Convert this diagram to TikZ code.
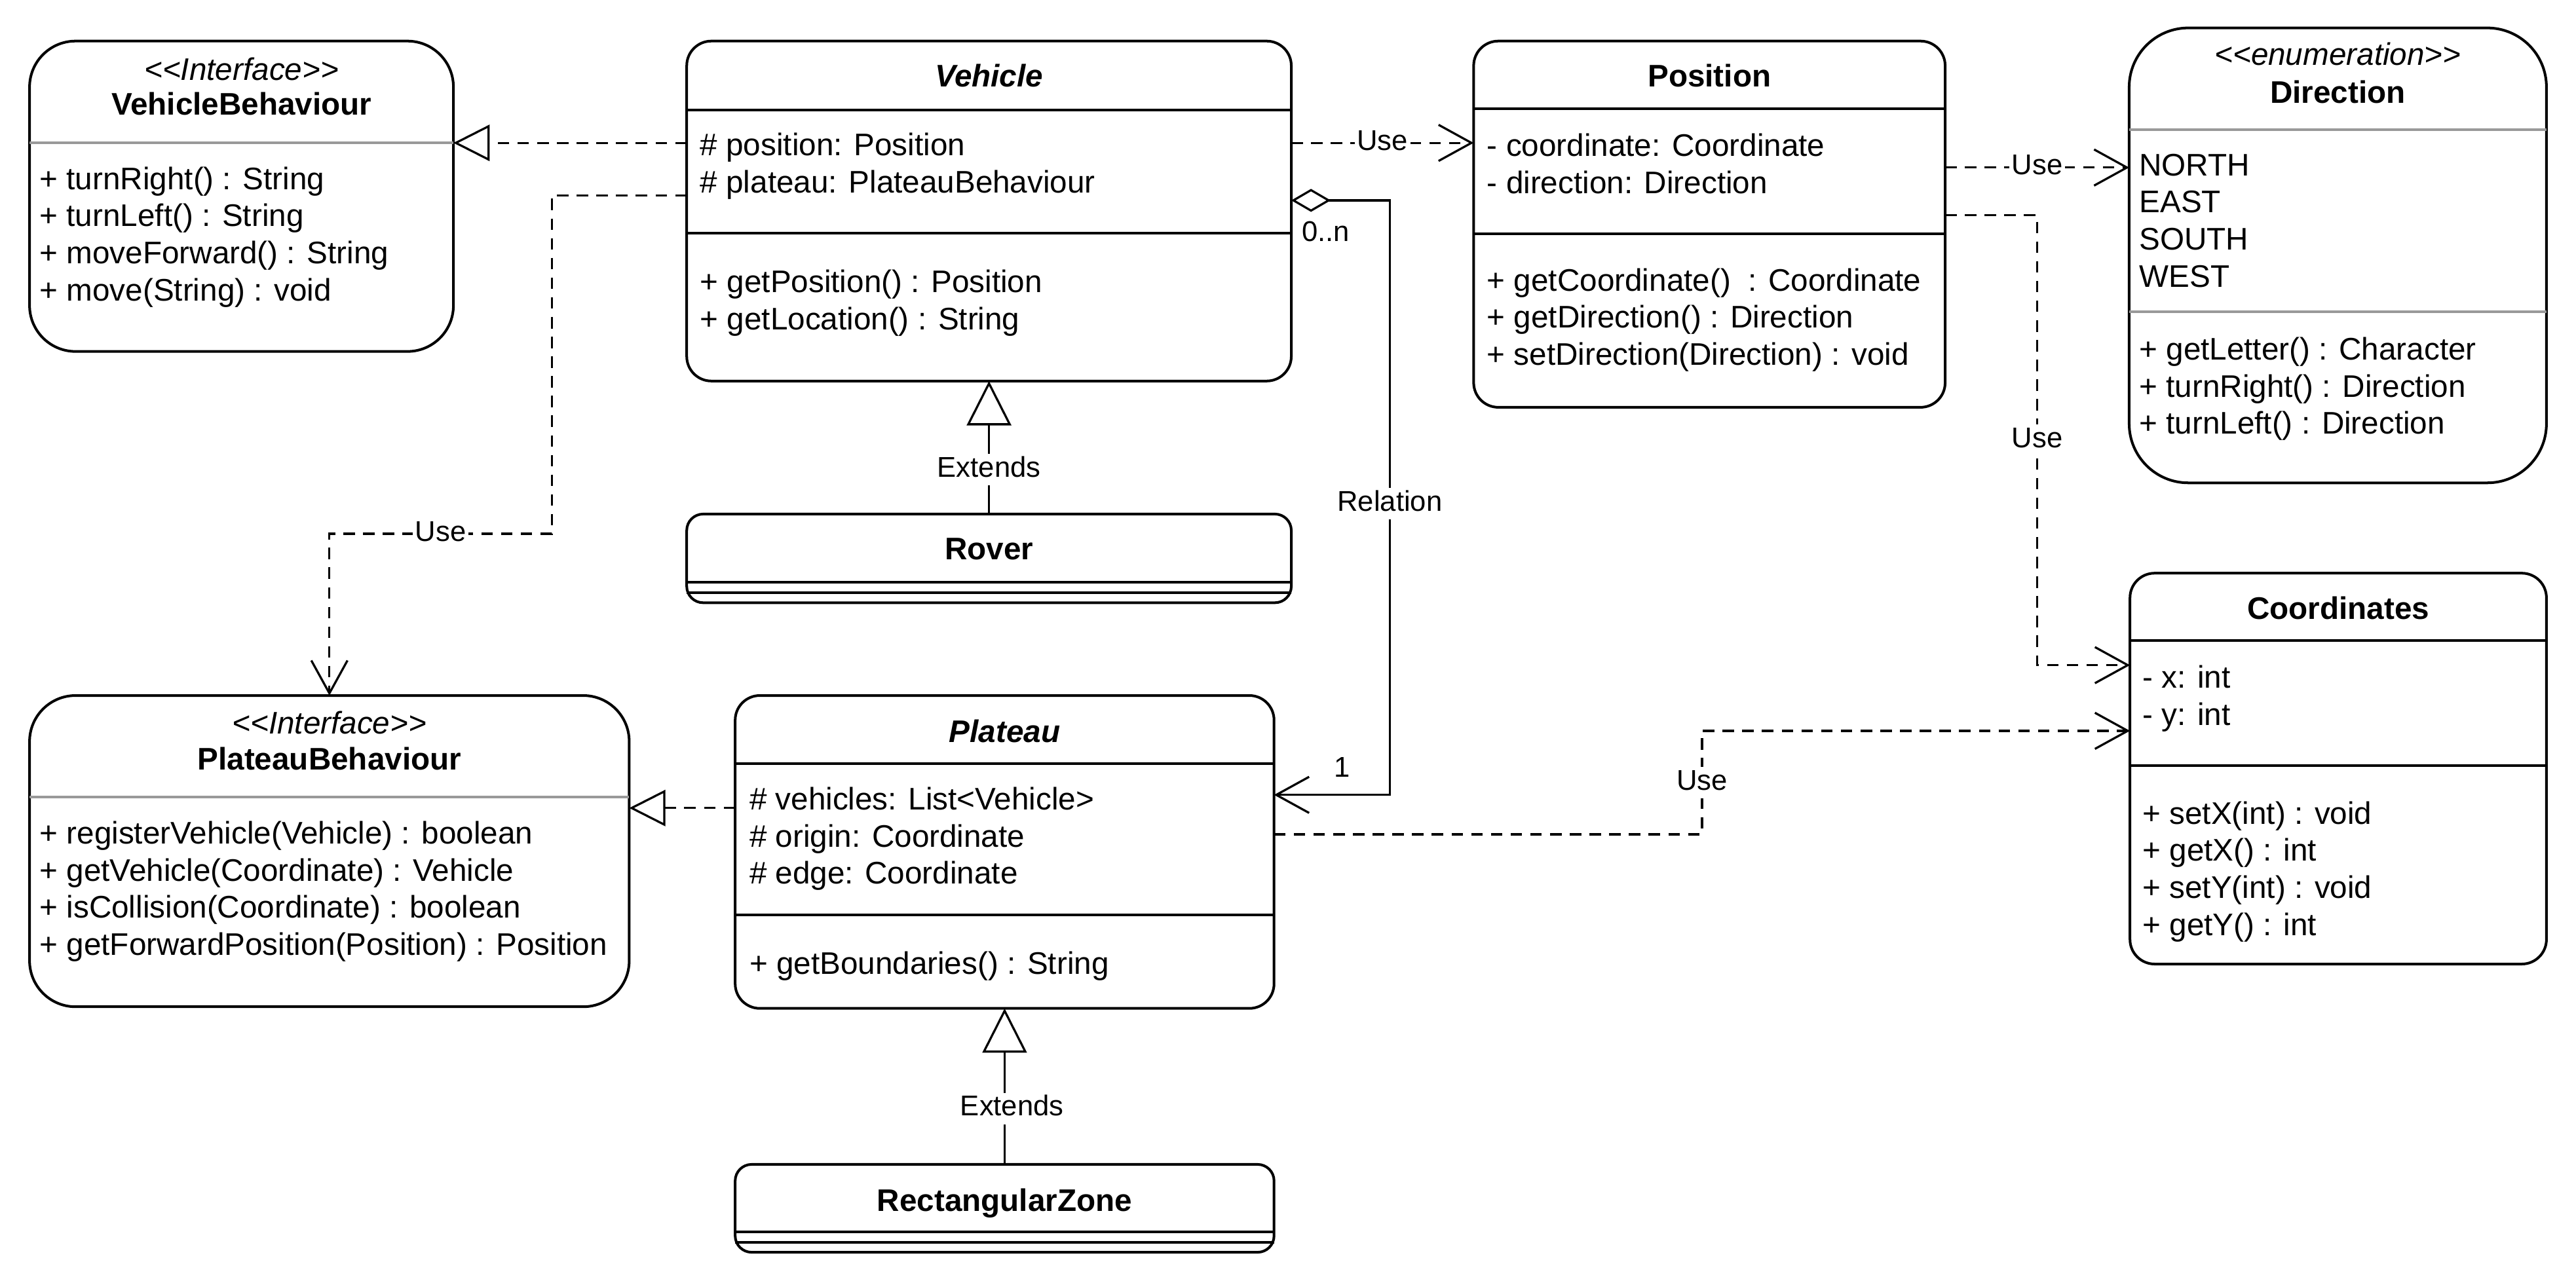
\documentclass[tikz,border=0pt]{standalone}
\usepackage{fontspec}
\newfontfamily\umlfont{Liberation Sans}
\usetikzlibrary{arrows.meta}

\tikzset{
  classbox/.style={draw, line width=1.6pt, rounded corners=15pt, inner sep=0pt, outer sep=0pt},
  title/.style={inner sep=0pt, text height=13.7pt, text depth=0pt, font=\umlfont\bfseries\fontsize{19pt}{22.6pt}\selectfont},
  stereo/.style={inner sep=0pt, text height=13.7pt, text depth=0pt, font=\umlfont\itshape\fontsize{19pt}{22.6pt}\selectfont},
  members/.style={anchor=north west, inner sep=0pt, align=left, font=\umlfont\fontsize{19pt}{22.6pt}\selectfont},
  sep/.style={line width=1.6pt},
  graysep/.style={line width=1.6pt, black!40},
  lbl/.style={fill=white, inner sep=1.5pt, text height=12.5pt, text depth=3.6pt, font=\umlfont\fontsize{17.4pt}{20pt}\selectfont},
  mult/.style={inner sep=0pt, font=\umlfont\fontsize{17.4pt}{20pt}\selectfont},
  use/.style={line width=1.3pt, dash pattern=on 7pt off 5pt, -{Straight Barb[length=20pt, width=22pt]}},
  realize/.style={line width=1.3pt, dash pattern=on 7pt off 5pt, -{Triangle[open, length=22pt, width=22pt]}},
  extends/.style={line width=1.3pt, -{Triangle[open, length=27pt, width=27pt]}},
  relation/.style={line width=1.3pt, {Diamond[open, length=24pt, width=14pt]}-{Straight Barb[length=20pt, width=22pt]}}
}

\begin{document}
\begin{tikzpicture}[x=1pt, y=-1pt]
  \fill[white] (0,0) rectangle (1568,780);
  \useasboundingbox (0,0) rectangle (1568,780);

  % classes
  \node[classbox, rounded corners=28pt, minimum width=258pt, minimum height=189pt] (vbeh) at (147,119.5) {};
  \node[classbox, minimum width=368pt, minimum height=207pt] (vehicle) at (602,128.5) {};
  \node[classbox, rounded corners=10pt, minimum width=368pt, minimum height=54pt] (rover) at (602,340) {};
  \node[classbox, minimum width=287pt, minimum height=223pt] (position) at (1040.5,136.5) {};
  \node[classbox, rounded corners=36pt, minimum width=254pt, minimum height=277pt] (direction) at (1423,155.5) {};
  \node[classbox, minimum width=253.5pt, minimum height=238pt] (coords) at (1423.25,468) {};
  \node[classbox, rounded corners=28pt, minimum width=365pt, minimum height=189.5pt] (pbeh) at (200.5,518.25) {};
  \node[classbox, minimum width=328pt, minimum height=190.5pt] (plateau) at (611.5,518.75) {};
  \node[classbox, rounded corners=10pt, minimum width=328pt, minimum height=53.5pt] (rectzone) at (611.5,735.75) {};

  % compartments
  \draw[graysep] (vbeh.west |- 0,87) -- (vbeh.east |- 0,87);
  \draw[sep] (vehicle.west |- 0,67) -- (vehicle.east |- 0,67);
  \draw[sep] (vehicle.west |- 0,142) -- (vehicle.east |- 0,142);
  \draw[sep] (rover.west |- 0,354.5) -- (rover.east |- 0,354.5);
  \draw[sep] (rover.west |- 0,361) -- (rover.east |- 0,361);
  \draw[sep] (position.west |- 0,66) -- (position.east |- 0,66);
  \draw[sep] (position.west |- 0,142.4) -- (position.east |- 0,142.4);
  \draw[graysep] (direction.west |- 0,79) -- (direction.east |- 0,79);
  \draw[graysep] (direction.west |- 0,190) -- (direction.east |- 0,190);
  \draw[sep] (coords.west |- 0,390) -- (coords.east |- 0,390);
  \draw[sep] (coords.west |- 0,466) -- (coords.east |- 0,466);
  \draw[graysep] (pbeh.west |- 0,485.5) -- (pbeh.east |- 0,485.5);
  \draw[sep] (plateau.west |- 0,465) -- (plateau.east |- 0,465);
  \draw[sep] (plateau.west |- 0,557) -- (plateau.east |- 0,557);
  \draw[sep] (rectzone.west |- 0,750) -- (rectzone.east |- 0,750);
  \draw[sep] (rectzone.west |- 0,756.6) -- (rectzone.east |- 0,756.6);

  % texts
  \node[stereo] (vbeh-st) at (147,42) {<<Interface>>};
  \node[title] (vbeh-name) at (147,63) {VehicleBehaviour};
  \node[members] (vbeh-ops) at (24,101.4) {+ turnRight() : String\\+ turnLeft() : String\\+ moveForward() : String\\+ move(String) : void};

  \node[title, font=\umlfont\bfseries\itshape\fontsize{19pt}{22.6pt}\selectfont] (vehicle-name) at (602,46) {Vehicle};
  \node[members] (vehicle-attr) at (426,80.9) {\# position: Position\\\# plateau: PlateauBehaviour};
  \node[members] (vehicle-ops) at (426,164.1) {+ getPosition() : Position\\+ getLocation() : String};

  \node[title] (rover-name) at (602,334) {Rover};

  \node[title] (position-name) at (1040.5,46) {Position};
  \node[members] (position-attr) at (905,81.1) {- coordinate: Coordinate\\- direction: Direction};
  \node[members] (position-ops) at (905,163.1) {+ getCoordinate()\ \ : Coordinate\\+ getDirection() : Direction\\+ setDirection(Direction) : void};

  \node[stereo] (direction-st) at (1423,33) {<<enumeration>>};
  \node[title] (direction-name) at (1423,56) {Direction};
  \node[members] (direction-val) at (1302,93.5) {NORTH\\EAST\\SOUTH\\WEST};
  \node[members] (direction-ops) at (1302,205.1) {+ getLetter() : Character\\+ turnRight() : Direction\\+ turnLeft() : Direction};

  \node[title] (coords-name) at (1423.25,370) {Coordinates};
  \node[members] (coords-attr) at (1304,405.1) {- x: int\\- y: int};
  \node[members] (coords-ops) at (1304,487.7) {+ setX(int) : void\\+ getX() : int\\+ setY(int) : void\\+ getY() : int};

  \node[stereo] (pbeh-st) at (200.5,440) {<<Interface>>};
  \node[title] (pbeh-name) at (200.5,462) {PlateauBehaviour};
  \node[members] (pbeh-ops) at (24,499.8) {+ registerVehicle(Vehicle) : boolean\\+ getVehicle(Coordinate) : Vehicle\\+ isCollision(Coordinate) : boolean\\+ getForwardPosition(Position) : Position};

  \node[title, font=\umlfont\bfseries\itshape\fontsize{19pt}{22.6pt}\selectfont] (plateau-name) at (611.5,445) {Plateau};
  \node[members] (plateau-attr) at (456,479.1) {\# vehicles: List<Vehicle>\\\# origin: Coordinate\\\# edge: Coordinate};
  \node[members] (plateau-ops) at (456,579.1) {+ getBoundaries() : String};

  \node[title] (rectzone-name) at (611.5,730.5) {RectangularZone};

  % connectors
  \draw[realize] (vehicle.west |- 0,87) -- (vbeh.east |- 0,87);
  \draw[realize] (plateau.west |- 0,492) -- (pbeh.east |- 0,492);
  \draw[use] (vehicle.west |- 0,119) -- (336,119) -- (336,325) -- node[lbl]{Use} (200.5,325) -- (pbeh.north);
  \draw[use] (vehicle.east |- 0,87) -- node[lbl]{Use} (position.west |- 0,87);
  \draw[use] (position.east |- 0,102) -- node[lbl]{Use} (direction.west |- 0,102);
  \draw[use] (position.east |- 0,131) -- (1240,131) -- node[lbl]{Use} (1240,405) -- (coords.west |- 0,405);
  \draw[use] (plateau.east |- 0,508) -- (1036,508) -- node[lbl]{Use} (1036,445) -- (coords.west |- 0,445);
  \draw[relation] (vehicle.east |- 0,122) -- (846,122) -- node[lbl, pos=0.51]{Relation} (846,484) -- (plateau.east |- 0,484);
  \node[mult] (mult-n) at (807,141) {0..n};
  \node[mult] (mult-1) at (817,467) {1};
  \draw[extends] (rover.north) -- node[lbl, pos=0.333]{Extends} (vehicle.south);
  \draw[extends] (rectzone.north) -- node[lbl, pos=0.358, xshift=4.5pt]{Extends} (plateau.south);
\end{tikzpicture}
\end{document}
